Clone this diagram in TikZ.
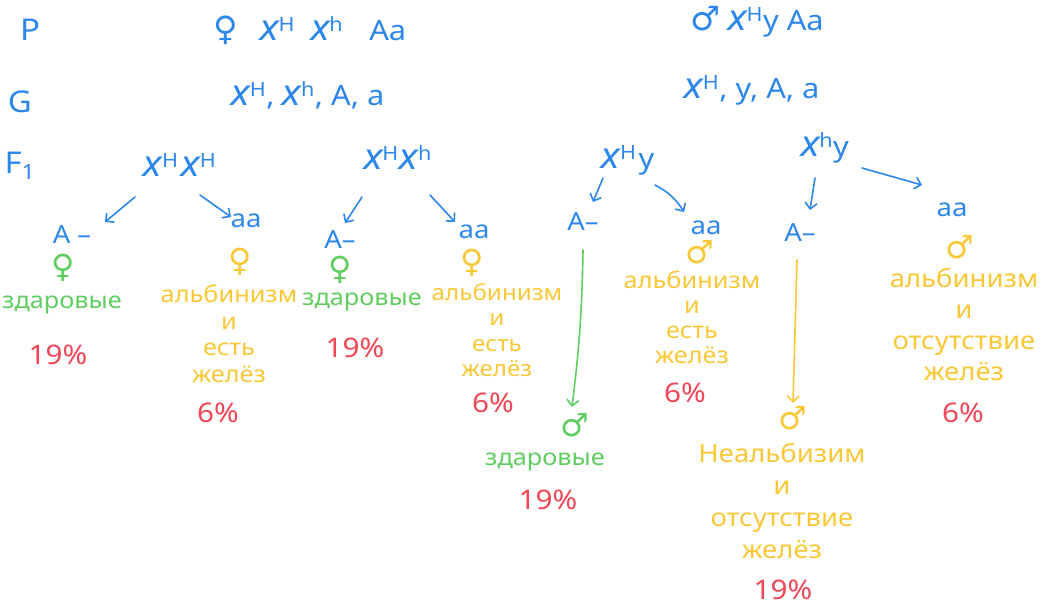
\documentclass[tikz,border=0pt]{standalone}
\usepackage{fontspec}
\setmainfont{Noto Sans}[FakeStretch=1.1]
\newfontfamily\symf{DejaVu Sans}
\usetikzlibrary{arrows.meta,calc}
\definecolor{hblue}{RGB}{45,135,235}
\definecolor{hgreen}{RGB}{95,205,95}
\definecolor{hyellow}{RGB}{250,200,55}
\definecolor{hred}{RGB}{240,70,85}
\newcommand{\xc}{\scalebox{1.3}{\itshape х}}
\newcommand{\fem}{{\symf\scalebox{1.2}{♀}}}
\newcommand{\mal}{{\symf\scalebox{1.2}{♂}}}
\tikzset{
  lbl/.style={text=hblue, font=\fontsize{30}{34}\selectfont, inner sep=0pt},
  gen/.style={text=hblue, font=\fontsize{28}{32}\selectfont, inner sep=0pt},
  ph/.style={text=hblue, font=\fontsize{25}{28}\selectfont, inner sep=0pt},
  sexg/.style={text=hgreen, font=\fontsize{32}{34}\selectfont\symf, inner sep=0pt},
  sexy/.style={text=hyellow, font=\fontsize{32}{34}\selectfont\symf, inner sep=0pt},
  healthy/.style={text=hgreen, font=\fontsize{23}{26}\selectfont, inner sep=0pt},
  desc/.style={text=hyellow, align=center, inner sep=0pt},
  pct/.style={text=hred, font=\fontsize{27}{30}\selectfont, inner sep=0pt},
  arr/.style={line width=1.6pt, line cap=round, line join=round, -{Straight Barb[length=6pt,width=12pt]}},
}
\begin{document}
\begin{tikzpicture}[x=1pt,y=-1pt]
\useasboundingbox (0,0) rectangle (1055,610);
% row labels
\node[lbl] (lp) at (30,30) {P};
\node[lbl] (lg) at (20,102) {G};
\node[lbl] (lf) at (20,166) {F\textsubscript{1}};
% parents
\node[gen] (par1) at (310,30) {\fem\hspace{22pt}\xc\textsuperscript{H}\hspace{16pt}\xc\textsuperscript{h}\hspace{26pt}Aa};
\node[gen] (par2) at (757,22) {\mal\hspace{8pt}\xc\textsuperscript{H}y\hspace{8pt}Aa};
% gametes
\node[gen] (gam1) at (308,95) {\xc\textsuperscript{H},~\xc\textsuperscript{h},~A,~a};
\node[gen] (gam2) at (752,90) {\xc\textsuperscript{H},~y,~A,~a};
% F1 genotypes
\node[gen] (f1) at (180,165) {\xc\textsuperscript{H}\hspace{3pt}\xc\textsuperscript{H}};
\node[gen] (f2) at (398,158) {\xc\textsuperscript{H}\hspace{1pt}\xc\textsuperscript{h}};
\node[gen] (f3) at (628,160) {\xc\textsuperscript{H}\hspace{2pt}y};
\node[gen] (f4) at (825,148) {\xc\textsuperscript{h}y};
% phenotype classes
\node[ph] (a1) at (72,235) {A –};
\node[ph] (b1) at (246,221) {aa};
\node[ph] (a2) at (340,240) {A–};
\node[ph] (b2) at (474,232) {aa};
\node[ph] (a3) at (583,222) {A–};
\node[ph] (b3) at (706,228) {aa};
\node[ph] (a4) at (800,233) {A–};
\node[ph] (b4) at (952,210) {aa};
% arrows
\draw[arr, hblue] ($(f1)+(-45,32)$) -- ($(a1)+(33,-13)$);
\draw[arr, hblue] ($(f1)+(20,30)$) -- ($(b1)+(-15,-4)$);
\draw[arr, hblue] ($(f2)+(-36,39)$) -- ($(a2)+(5,-17)$);
\draw[arr, hblue] ($(f2)+(32,37)$) -- ($(b2)+(-19,-10)$);
\draw[arr, hblue] ($(f3)+(-25,18)$) -- ($(a3)+(10,-20)$);
\draw[arr, hblue] ($(f3)+(27,25)$) to[bend left=15] ($(b3)+(-22,-16)$);
\draw[arr, hblue] ($(f4)+(-10,30)$) -- ($(a4)+(10,-23)$);
\draw[arr, hblue] ($(f4)+(37,20)$) -- ($(b4)+(-30,-25)$);
% group 1
\node[sexg] (s1) at (63,268) {♀};
\node[healthy] (t1) at (62,305) {здаровые};
\node[pct] (p1) at (58,355) {19\%};
\node[sexy] (s2) at (240,262) {♀};
\node[desc, font=\fontsize{23}{26.5}\selectfont] (d2) at (229,334) {альбинизм\\и\\есть\\желёз};
\node[pct] (p2) at (218,413) {6\%};
% group 2
\node[sexg] (s3) at (340,270) {♀};
\node[healthy] (t3) at (362,302) {здаровые};
\node[pct] (p3) at (355,348) {19\%};
\node[sexy] (s4) at (472,263) {♀};
\node[desc, font=\fontsize{22}{25.5}\selectfont] (d4) at (497,330) {альбинизм\\и\\есть\\желёз};
\node[pct] (p4) at (493,403) {6\%};
% group 3
\node[sexg] (s5) at (575,425) {♂};
\node[healthy] (t5) at (545,462) {здаровые};
\node[pct] (p5) at (548,500) {19\%};
\draw[arr, hgreen] ($(a3)+(0,28)$) to[bend left=3] ($(s5)+(-3,-18)$);
\node[sexy] (s6) at (700,252) {♂};
\node[desc, font=\fontsize{23}{25}\selectfont] (d6) at (692,317) {альбинизм\\и\\есть\\желёз};
\node[pct] (p6) at (685,393) {6\%};
% group 4
\node[sexy] (s7) at (793,418) {♂};
\node[desc, font=\fontsize{25}{32}\selectfont] (d7) at (782,501) {Неальбизим\\и\\отсутствие\\желёз};
\node[pct] (p7) at (783,590) {19\%};
\draw[arr, hyellow] ($(a4)+(-3,27)$) -- ($(s7)+(0,-15)$);
\node[sexy] (s8) at (960,247) {♂};
\node[desc, font=\fontsize{25}{31}\selectfont] (d8) at (964,324) {альбинизм\\и\\отсутствие\\желёз};
\node[pct] (p8) at (963,413) {6\%};
\end{tikzpicture}
\end{document}
